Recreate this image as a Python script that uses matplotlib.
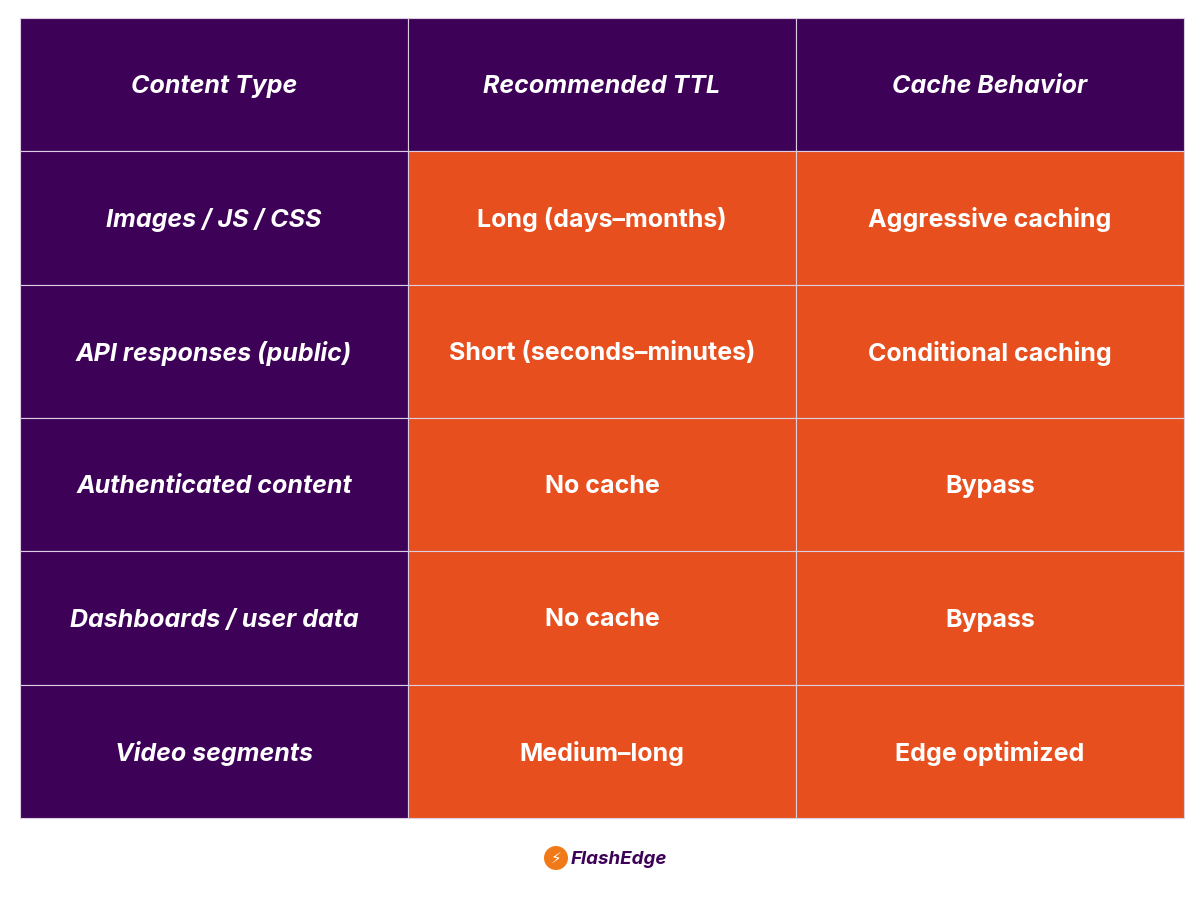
import matplotlib
matplotlib.use("Agg")
import matplotlib.pyplot as plt
from matplotlib.patches import Rectangle, Circle

headers = ["Content Type", "Recommended TTL", "Cache Behavior"]
content_types = ["Images / JS / CSS", "API responses (public)", "Authenticated content",
                 "Dashboards / user data", "Video segments"]
ttl = ["Long (days–months)", "Short (seconds–minutes)", "No cache", "No cache", "Medium–long"]
behavior = ["Aggressive caching", "Conditional caching", "Bypass", "Bypass", "Edge optimized"]

PURPLE = "#3d0158"
ORANGE = "#e84f1e"
W, H = 1200, 900
fig = plt.figure(figsize=(12, 9), dpi=100)
ax = fig.add_axes([0, 0, 1, 1])
ax.set_xlim(0, W); ax.set_ylim(H, 0); ax.axis("off")

xs = [20, 408, 796, 1184]
y0, y1 = 18, 818
nrows = 1 + len(content_types)
rh = (y1 - y0) / nrows
font = "Inter"
rows = [headers] + [[c, t, b] for c, t, b in zip(content_types, ttl, behavior)]
for r, row in enumerate(rows):
    for c, txt in enumerate(row):
        x, y = xs[c], y0 + r * rh
        col = PURPLE if (r == 0 or c == 0) else ORANGE
        ax.add_patch(Rectangle((x, y), xs[c+1] - x, rh, facecolor=col,
                               edgecolor="#d9cfe0", linewidth=0.8))
        ax.text((x + xs[c+1]) / 2, y + rh / 2 + 2, txt, color="white", fontsize=18,
                fontweight="bold", fontfamily=font,
                style="italic" if (r == 0 or c == 0) else "normal",
                ha="center", va="center")

ax.add_patch(Circle((556, 858), 12, facecolor="#f07a1a", edgecolor="none"))
ax.text(556, 858, "⚡", color="white", fontsize=11, ha="center", va="center", fontfamily="DejaVu Sans")
ax.text(571, 859, "FlashEdge", color=PURPLE, fontsize=13.5, fontweight="bold", style="italic",
        fontfamily=font, ha="left", va="center")
fig.savefig("out.png", dpi=100, facecolor="white")
